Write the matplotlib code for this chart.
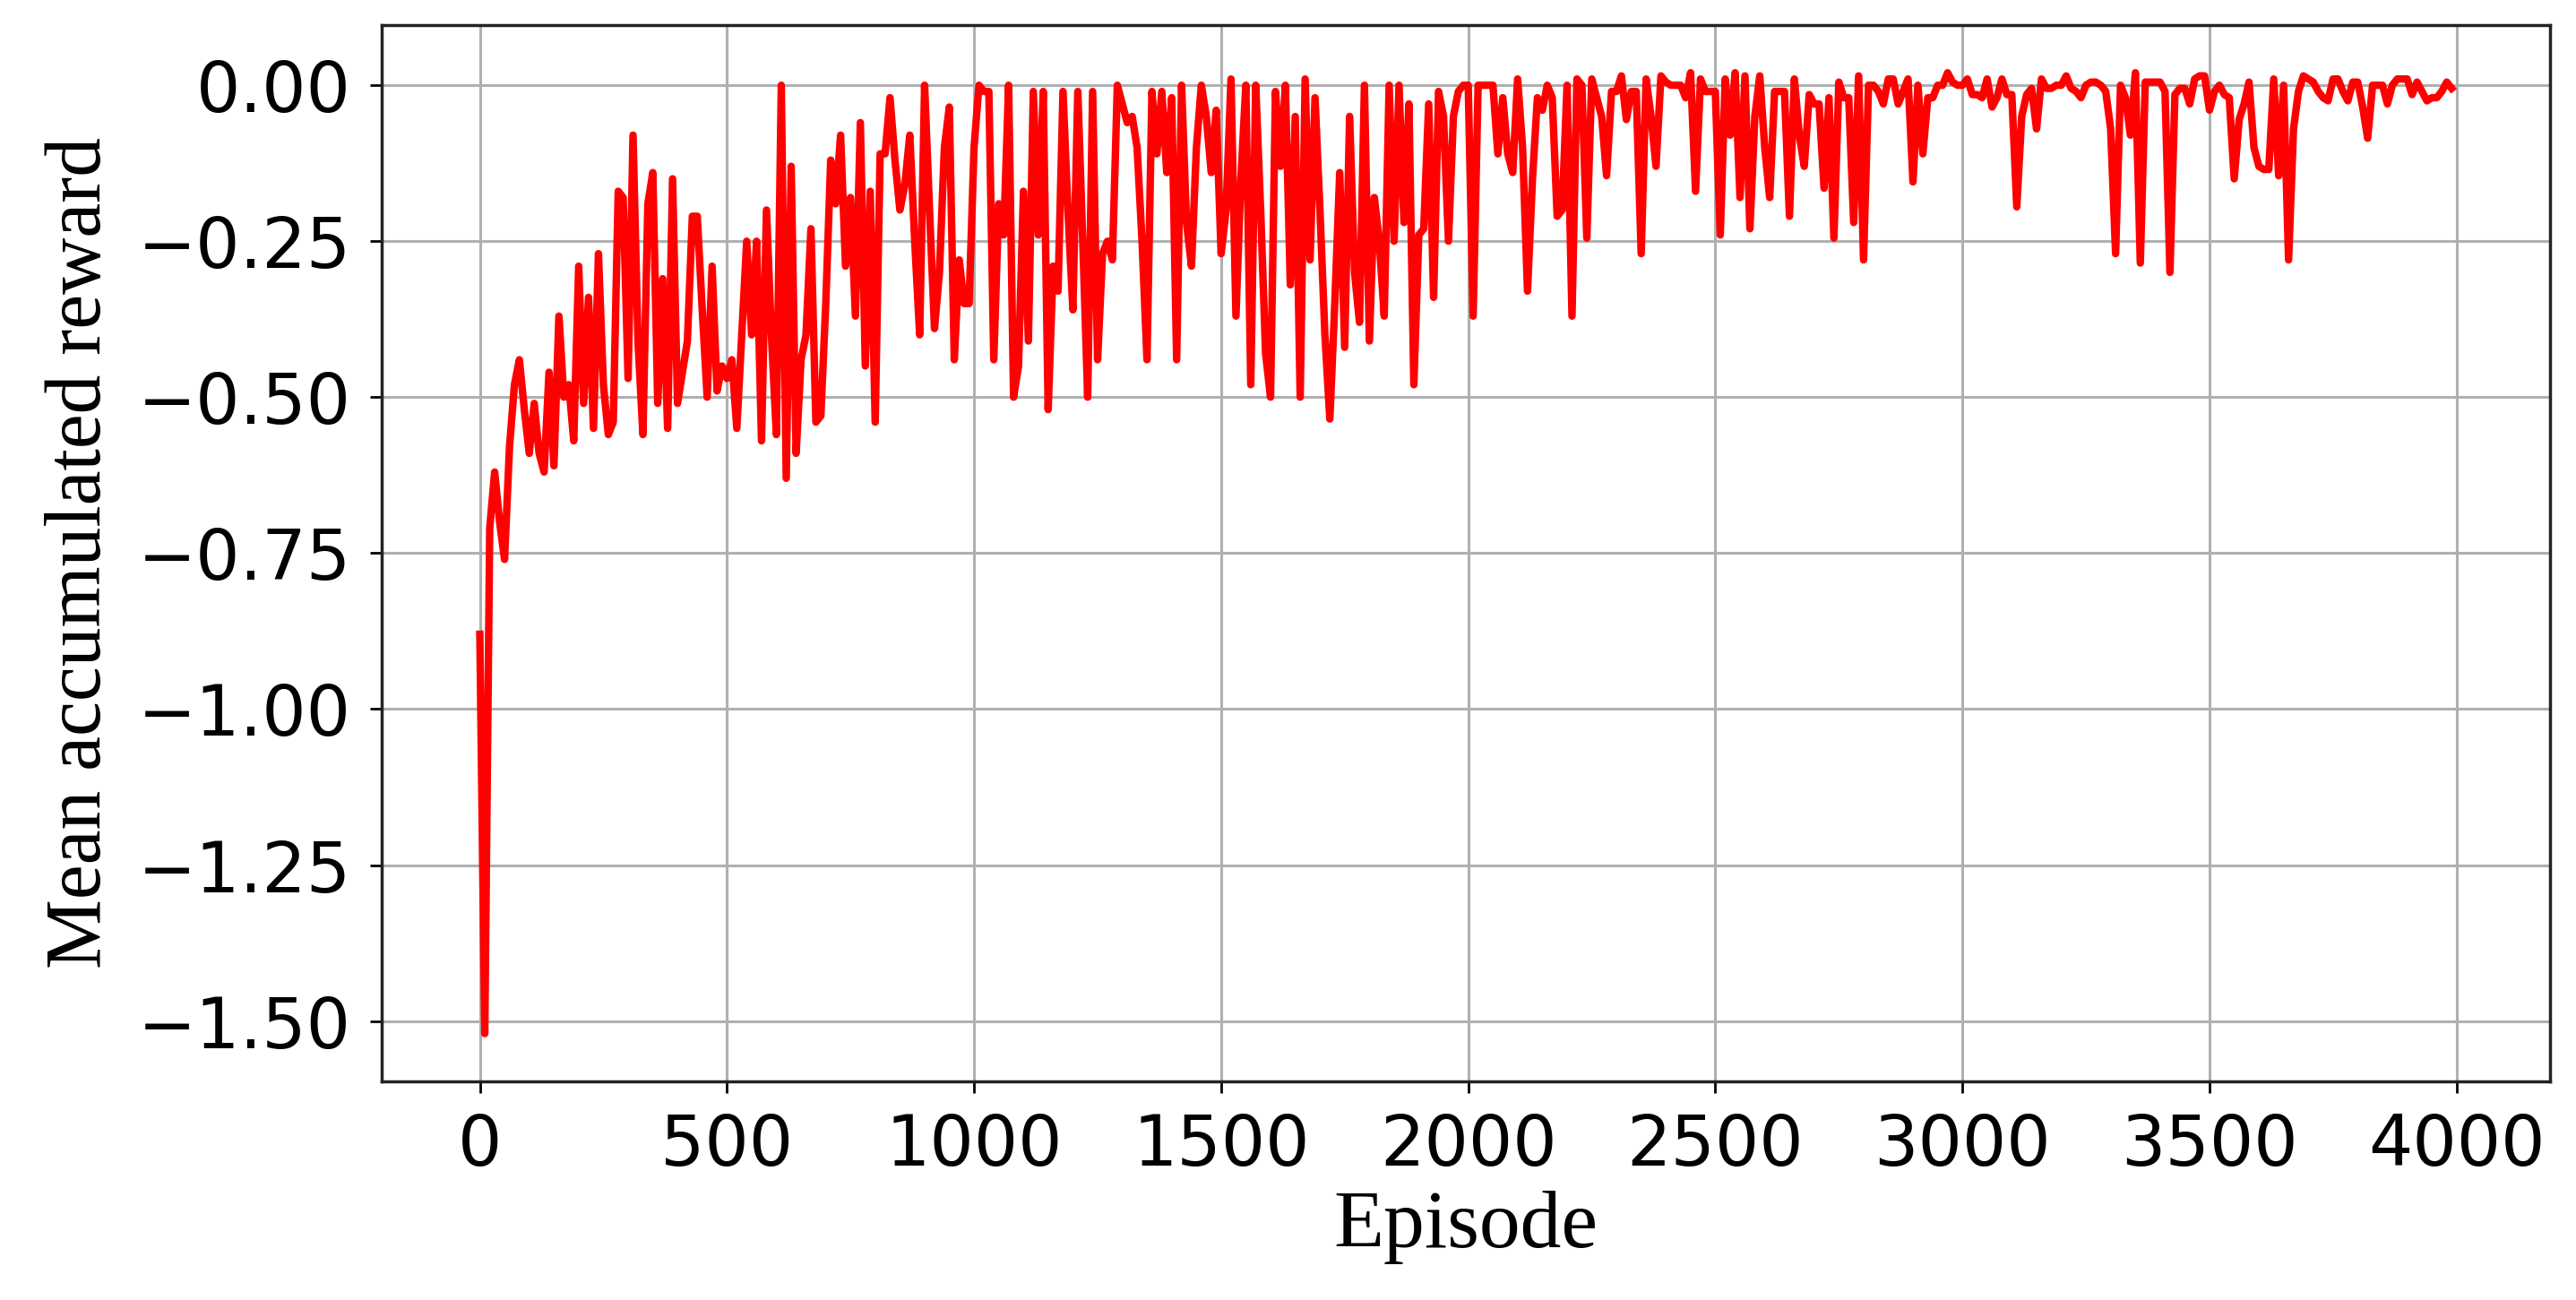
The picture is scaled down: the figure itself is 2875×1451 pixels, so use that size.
import matplotlib
matplotlib.use("Agg")
import matplotlib.pyplot as plt
import numpy as np

# Episodios (cada 10) y recompensa media acumulada
episodios = np.arange(0, 4000, 10)

recompensa = [
    -0.88, -1.52, -0.71, -0.62, -0.70, -0.76, -0.58, -0.48, -0.44, -0.52,
    -0.59, -0.51, -0.59, -0.62, -0.46, -0.61, -0.37, -0.50, -0.48, -0.57,
    -0.29, -0.51, -0.34, -0.55, -0.27, -0.48, -0.56, -0.54, -0.17, -0.18,
    -0.47, -0.08, -0.41, -0.56, -0.19, -0.14, -0.51, -0.31, -0.55, -0.15,
    -0.51, -0.46, -0.41, -0.21, -0.21, -0.36, -0.50, -0.29, -0.49, -0.45,
    -0.47, -0.44, -0.55, -0.40, -0.25, -0.40, -0.25, -0.57, -0.20, -0.40,
    -0.56, 0.00, -0.63, -0.13, -0.59, -0.44, -0.40, -0.23, -0.54, -0.53,
    -0.35, -0.12, -0.19, -0.08, -0.29, -0.18, -0.37, -0.06, -0.45, -0.17,
    -0.54, -0.11, -0.11, -0.02, -0.12, -0.20, -0.16, -0.08, -0.25, -0.40,
    0.00, -0.20, -0.39, -0.30, -0.10, -0.035, -0.44, -0.28, -0.35, -0.35,
    -0.10, 0.00, -0.01, -0.01, -0.44, -0.19, -0.24, 0.00, -0.50, -0.45,
    -0.17, -0.41, -0.01, -0.24, -0.01, -0.52, -0.29, -0.33, -0.01, -0.20,
    -0.36, -0.01, -0.25, -0.50, -0.01, -0.44, -0.27, -0.25, -0.28, 0.00,
    -0.03, -0.06, -0.05, -0.10, -0.25, -0.44, -0.01, -0.11, -0.01, -0.14,
    -0.02, -0.44, 0.00, -0.22, -0.29, -0.10, 0.00, -0.05, -0.14, -0.04,
    -0.27, -0.20, 0.01, -0.37, -0.15, 0.00, -0.48, 0.00, -0.20, -0.43,
    -0.50, -0.01, -0.13, 0.00, -0.32, -0.05, -0.50, 0.01, -0.28, -0.02,
    -0.20, -0.40, -0.535, -0.35, -0.14, -0.42, -0.05, -0.30, -0.38, 0.00,
    -0.41, -0.18, -0.25, -0.37, 0.00, -0.25, 0.00, -0.22, -0.03, -0.48,
    -0.24, -0.23, -0.03, -0.34, -0.01, -0.05, -0.25, -0.05, -0.01, 0.00,
    0.00, -0.37, 0.00, 0.00, 0.00, 0.00, -0.11, -0.02, -0.11, -0.14,
    0.01, -0.10, -0.33, -0.15, -0.02, -0.04, 0.00, -0.02, -0.21, -0.20,
    0.00, -0.37, 0.01, 0.00, -0.245, 0.01, -0.02, -0.05, -0.145, -0.01,
    -0.01, 0.015, -0.055, -0.01, -0.01, -0.27, 0.01, -0.05, -0.13, 0.015,
    0.005, 0.00, 0.00, 0.00, -0.02, 0.02, -0.17, 0.01, -0.01, -0.01,
    -0.01, -0.24, 0.01, -0.08, 0.02, -0.18, 0.015, -0.23, -0.05, 0.015,
    -0.10, -0.18, -0.01, -0.01, -0.01, -0.21, 0.01, -0.08, -0.13, -0.015,
    -0.03, -0.03, -0.165, -0.02, -0.245, 0.005, -0.02, -0.02, -0.22, 0.015,
    -0.28, 0.00, 0.00, -0.01, -0.03, 0.01, 0.01, -0.03, -0.01, 0.01,
    -0.155, 0.00, -0.11, -0.02, -0.02, 0.00, 0.00, 0.02, 0.005, 0.00,
    0.00, 0.01, -0.015, -0.015, -0.02, 0.01, -0.035, -0.02, 0.01, -0.015,
    -0.015, -0.195, -0.05, -0.015, -0.005, -0.07, 0.01, -0.005, -0.005, 0.00,
    0.00, 0.015, -0.005, -0.01, -0.02, 0.00, 0.005, 0.005, 0.00, -0.01,
    -0.07, -0.27, 0.00, -0.02, -0.08, 0.02, -0.285, 0.005, 0.005, 0.005,
    0.005, -0.01, -0.30, -0.015, -0.005, -0.005, -0.03, 0.01, 0.015, 0.015,
    -0.04, -0.01, 0.00, -0.015, -0.02, -0.15, -0.055, -0.03, 0.005, -0.10,
    -0.13, -0.135, -0.135, 0.01, -0.145, 0.00, -0.28, -0.07, -0.01, 0.015,
    0.01, 0.005, -0.01, -0.02, -0.025, 0.01, 0.01, -0.01, -0.025, 0.005,
    0.005, -0.035, -0.085, 0.00, 0.00, 0.00, -0.03, 0.00, 0.01, 0.01,
    0.01, -0.015, 0.005, -0.01, -0.025, -0.02, -0.02, -0.01, 0.005, -0.005,
]

yticks = [0.00, -0.25, -0.50, -0.75, -1.00, -1.25, -1.50]
xticks = [0, 500, 1000, 1500, 2000, 2500, 3000, 3500, 4000]

fig, ax = plt.subplots(figsize=(28.75, 14.51), dpi=100)
fig.subplots_adjust(left=0.148, right=0.990, top=0.981, bottom=0.168)

ax.plot(episodios, recompensa, color='red', linewidth=6)

ax.set_xticks(xticks)
ax.set_yticks(yticks)
ax.set_yticklabels([f"{v:.2f}".replace('-', '\u2212') for v in yticks])
ax.grid(True, color='#b0b0b0', linewidth=2.2)

ax.tick_params(labelsize=56, length=9.5, width=2, pad=15)
for s in ax.spines.values():
    s.set_linewidth(2.5)
    s.set_color('#222222')

serif = ['Liberation Serif', 'DejaVu Serif']
ax.set_xlabel('Episode', fontsize=66, family=serif, labelpad=8)
ax.set_ylabel('Mean accumulated reward', fontsize=63, family=serif, labelpad=16)

plt.savefig('out.png', dpi=100)
